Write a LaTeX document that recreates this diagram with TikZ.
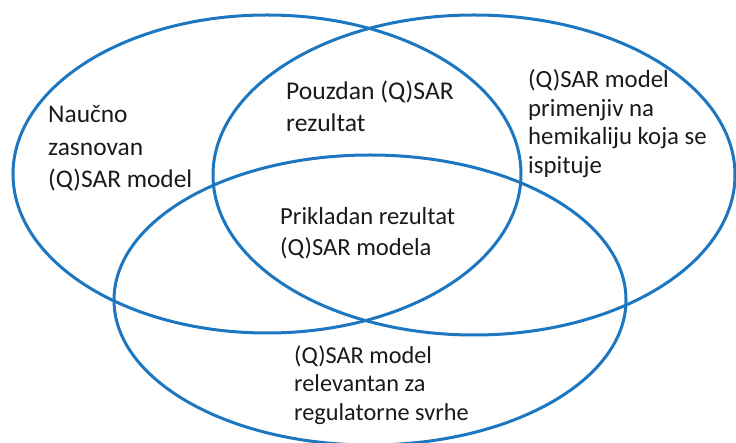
\documentclass[tikz,border=0pt]{standalone}
\usepackage{fontspec}
\setmainfont{Carlito}
\definecolor{vennblue}{RGB}{28,118,192}
\definecolor{txt}{RGB}{25,25,30}
\begin{document}
\begin{tikzpicture}[x=1pt,y=-1pt,
  ring/.style={draw=vennblue,line width=3pt},
  lbl/.style 2 args={anchor=base west,inner sep=0pt,align=left,text=txt,font=\fontsize{#1}{#2}\selectfont}]
\useasboundingbox (0,0) rectangle (736,443);
\draw[ring] (267,174) ellipse [x radius=254, y radius=159];
\draw[ring] (474,175) ellipse [x radius=261, y radius=160];
\draw[ring] (370,300) ellipse [x radius=256, y radius=145];
\node[lbl={25.4}{32.5}] (a) at (48,188) {Naučno\\zasnovan\\(Q)SAR model};
\node[lbl={25.6}{32}] (b) at (286,132) {Pouzdan (Q)SAR\\rezultat};
\node[lbl={24.8}{28.5}] (c) at (528,173.5) {(Q)SAR model\\primenjiv na\\hemikaliju koja se\\ispituje};
\node[lbl={24.6}{31}] (d) at (280,256) {Prikladan rezultat\\(Q)SAR modela};
\node[lbl={24.3}{28.5}] (e) at (294,420) {(Q)SAR model\\relevantan za\\regulatorne svrhe};
\end{tikzpicture}
\end{document}
